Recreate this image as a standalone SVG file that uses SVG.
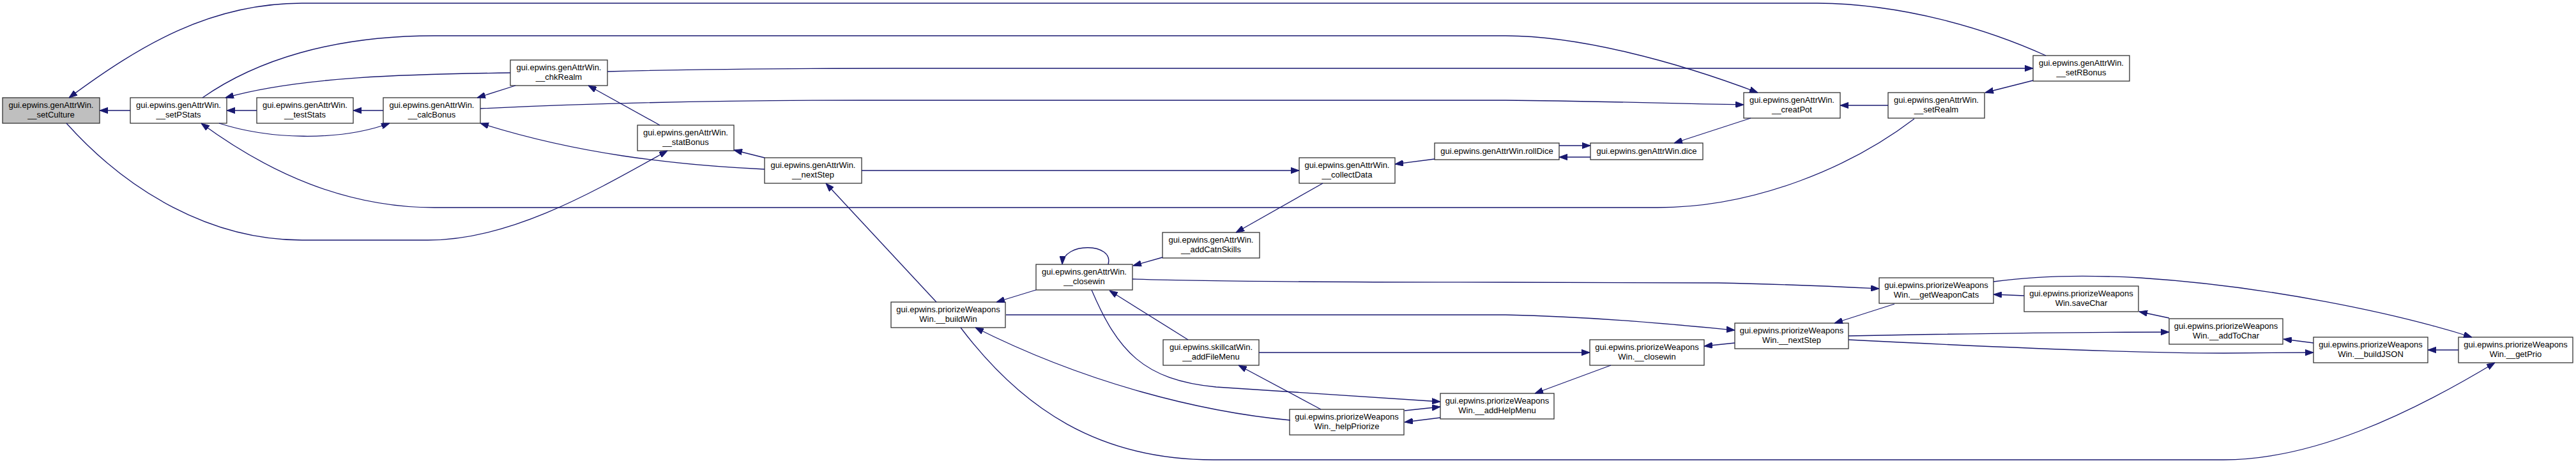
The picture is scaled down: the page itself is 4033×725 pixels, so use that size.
<svg xmlns="http://www.w3.org/2000/svg" width="4033" height="725" viewBox="0 0 4033 725">
<style>
.node rect{fill:#ffffff;stroke:#333333;stroke-width:1.3}
.node.root rect{fill:#bfbfbf}
.node text{font-family:"Liberation Sans",Arial,sans-serif;font-size:13px;fill:#000000;text-anchor:middle}
.edge path{fill:none;stroke:#191970;stroke-width:1.3;marker-end:url(#ah)}
</style>
<defs>
<marker id="ah" viewBox="0 0 13 9.4" refX="13" refY="4.7" markerWidth="13" markerHeight="9.4" markerUnits="userSpaceOnUse" orient="auto">
<path d="M0,0 L13,4.7 L0,9.4 z" fill="#191970" stroke="#191970" stroke-width="1"/>
</marker>
</defs>
<rect width="4033" height="725" fill="#ffffff"/>
<g id="nodes">
<g id="n_setCulture" class="node root"><rect x="4" y="153" width="152" height="40"/><text x="80" y="169">gui.epwins.genAttrWin.</text><text x="80" y="184">__setCulture</text></g>
<g id="n_setPStats" class="node"><rect x="204" y="153" width="151" height="40"/><text x="279.5" y="169">gui.epwins.genAttrWin.</text><text x="279.5" y="184">__setPStats</text></g>
<g id="n_testStats" class="node"><rect x="402" y="153" width="151" height="40"/><text x="477.5" y="169">gui.epwins.genAttrWin.</text><text x="477.5" y="184">__testStats</text></g>
<g id="n_calcBonus" class="node"><rect x="600" y="153" width="152" height="40"/><text x="676" y="169">gui.epwins.genAttrWin.</text><text x="676" y="184">__calcBonus</text></g>
<g id="n_chkRealm" class="node"><rect x="799" y="94" width="152" height="40"/><text x="875" y="110">gui.epwins.genAttrWin.</text><text x="875" y="125">__chkRealm</text></g>
<g id="n_statBonus" class="node"><rect x="998" y="196" width="151" height="40"/><text x="1073.5" y="212">gui.epwins.genAttrWin.</text><text x="1073.5" y="227">__statBonus</text></g>
<g id="n_nextStep" class="node"><rect x="1197" y="247" width="152" height="40"/><text x="1273" y="263">gui.epwins.genAttrWin.</text><text x="1273" y="278">__nextStep</text></g>
<g id="n_collectData" class="node"><rect x="2034" y="247" width="150" height="40"/><text x="2109" y="263">gui.epwins.genAttrWin.</text><text x="2109" y="278">__collectData</text></g>
<g id="n_rollDice" class="node"><rect x="2246" y="224" width="195" height="26"/><text x="2343.5" y="241">gui.epwins.genAttrWin.rollDice</text></g>
<g id="n_dice" class="node"><rect x="2490" y="224" width="176" height="26"/><text x="2578" y="241">gui.epwins.genAttrWin.dice</text></g>
<g id="n_creatPot" class="node"><rect x="2730" y="145" width="151" height="40"/><text x="2805.5" y="161">gui.epwins.genAttrWin.</text><text x="2805.5" y="176">__creatPot</text></g>
<g id="n_setRealm" class="node"><rect x="2956" y="145" width="151" height="40"/><text x="3031.5" y="161">gui.epwins.genAttrWin.</text><text x="3031.5" y="176">__setRealm</text></g>
<g id="n_setRBonus" class="node"><rect x="3183" y="87" width="151" height="40"/><text x="3258.5" y="103">gui.epwins.genAttrWin.</text><text x="3258.5" y="118">__setRBonus</text></g>
<g id="n_addCatnSkills" class="node"><rect x="1820" y="364" width="152" height="40"/><text x="1896" y="380">gui.epwins.genAttrWin.</text><text x="1896" y="395">__addCatnSkills</text></g>
<g id="n_closewin" class="node"><rect x="1622" y="414" width="151" height="40"/><text x="1697.5" y="430">gui.epwins.genAttrWin.</text><text x="1697.5" y="445">__closewin</text></g>
<g id="n_buildWin" class="node"><rect x="1395" y="473" width="179" height="40"/><text x="1484.5" y="489">gui.epwins.priorizeWeapons</text><text x="1484.5" y="504">Win.__buildWin</text></g>
<g id="n_addFileMenu" class="node"><rect x="1821" y="532" width="150" height="40"/><text x="1896" y="548">gui.epwins.skillcatWin.</text><text x="1896" y="563">__addFileMenu</text></g>
<g id="n_pClosewin" class="node"><rect x="2489" y="532" width="179" height="40"/><text x="2578.5" y="548">gui.epwins.priorizeWeapons</text><text x="2578.5" y="563">Win.__closewin</text></g>
<g id="n_addHelpMenu" class="node"><rect x="2255" y="616" width="178" height="40"/><text x="2344" y="632">gui.epwins.priorizeWeapons</text><text x="2344" y="647">Win.__addHelpMenu</text></g>
<g id="n_helpPriorize" class="node"><rect x="2019" y="641" width="179" height="40"/><text x="2108.5" y="657">gui.epwins.priorizeWeapons</text><text x="2108.5" y="672">Win._helpPriorize</text></g>
<g id="n_getWeaponCats" class="node"><rect x="2942" y="435" width="179" height="40"/><text x="3031.5" y="451">gui.epwins.priorizeWeapons</text><text x="3031.5" y="466">Win.__getWeaponCats</text></g>
<g id="n_saveChar" class="node"><rect x="3169" y="448" width="179" height="40"/><text x="3258.5" y="464">gui.epwins.priorizeWeapons</text><text x="3258.5" y="479">Win.saveChar</text></g>
<g id="n_pNextStep" class="node"><rect x="2716" y="506" width="178" height="40"/><text x="2805" y="522">gui.epwins.priorizeWeapons</text><text x="2805" y="537">Win.__nextStep</text></g>
<g id="n_addToChar" class="node"><rect x="3396" y="499" width="178" height="40"/><text x="3485" y="515">gui.epwins.priorizeWeapons</text><text x="3485" y="530">Win.__addToChar</text></g>
<g id="n_buildJSON" class="node"><rect x="3622" y="528" width="179" height="40"/><text x="3711.5" y="544">gui.epwins.priorizeWeapons</text><text x="3711.5" y="559">Win.__buildJSON</text></g>
<g id="n_getPrio" class="node"><rect x="3849" y="528" width="179" height="40"/><text x="3938.5" y="544">gui.epwins.priorizeWeapons</text><text x="3938.5" y="559">Win.__getPrio</text></g>
</g>
<g id="edges" class="edge">
<path d="M204,173 L156,173"/>
<path d="M3203,87 C3110,45 2980,6 2845,5 L473,5 C330,5 220,70 108,153"/>
<path d="M317,153 C400,95 520,56 680,56 L2357,56 C2470,56 2620,95 2752,145"/>
<path d="M799,114 C640,116 470,120 353,153"/>
<path d="M951,112 C1100,108 1250,107 1400,107 L3183,107"/>
<path d="M402,173 L355,173"/>
<path d="M600,173 L553,173"/>
<path d="M343,193 C420,218 530,222 610,193"/>
<path d="M2997,186 C2900,260 2750,325 2595,325 L680,325 C540,325 420,270 315,193"/>
<path d="M104,193 C200,300 330,376 473,376 L670,376 C800,376 930,300 1045,236"/>
<path d="M807,134 L747,153"/>
<path d="M752,170 C900,163 1100,157 1350,157 L2357,157 C2500,158 2600,162 2730,164"/>
<path d="M1033,196 L921,134"/>
<path d="M1197,265 C1050,258 900,240 752,193"/>
<path d="M1197,247 L1149,235"/>
<path d="M1466,473 L1293,287"/>
<path d="M1349,267 L2034,267"/>
<path d="M2246,249 L2184,257"/>
<path d="M2441,228 L2490,228"/>
<path d="M2490,246 L2441,246"/>
<path d="M2741,185 L2621,224"/>
<path d="M2956,165 L2881,165"/>
<path d="M3183,126 L3108,145"/>
<path d="M2071,287 L1935,364"/>
<path d="M1820,403 L1774,416"/>
<path d="M1735,414 C1745,380 1665,378 1663,414"/>
<path d="M1622,454 L1560,473"/>
<path d="M1773,437 C1900,441 2100,442 2357,442 L2690,443 C2800,445 2880,449 2942,452"/>
<path d="M1575,493 L2357,493 C2500,496 2620,508 2716,517"/>
<path d="M1709,454 C1750,550 1790,595 1904,606 L2255,629"/>
<path d="M1860,532 L1737,455"/>
<path d="M1971,552 L2489,552"/>
<path d="M2068,641 L1939,572"/>
<path d="M2020,658 C1880,645 1700,600 1527,513"/>
<path d="M1504,513 C1600,640 1720,720 1900,720 L3481,720 C3620,720 3770,650 3906,568"/>
<path d="M2199,643 L2255,637"/>
<path d="M2255,654 L2199,661"/>
<path d="M2522,572 L2403,616"/>
<path d="M2716,537 L2668,542"/>
<path d="M2966,476 L2872,506"/>
<path d="M3169,463 L3121,461"/>
<path d="M3121,441 C3200,430 3280,431 3350,435 C3550,448 3750,490 3870,528"/>
<path d="M3396,498 L3349,488"/>
<path d="M2894,526 C3100,522 3250,520 3396,520"/>
<path d="M2894,532 C3150,545 3350,553 3481,553 L3622,552"/>
<path d="M3622,537 L3575,531"/>
<path d="M3849,548 L3801,548"/>
</g>
</svg>
